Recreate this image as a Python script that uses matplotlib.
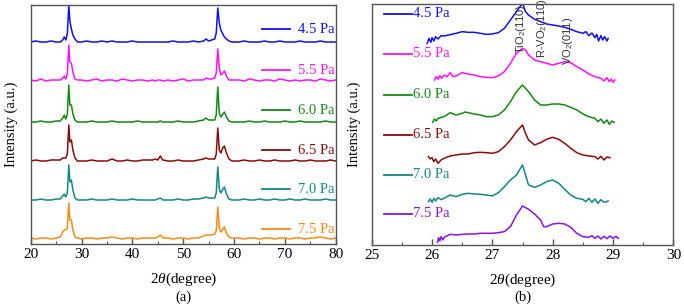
import matplotlib
matplotlib.use("Agg")
import matplotlib.pyplot as plt

# ── style ──────────────────────────────────────────────────────────────────
plt.rcParams.update({
    "font.family": "Liberation Serif",
    "font.size": 10,
    "mathtext.fontset": "custom",
    "mathtext.rm": "Liberation Serif",
    "mathtext.it": "Liberation Serif:italic",
    "mathtext.sf": "Liberation Sans",
    "axes.edgecolor": "#555555",
    "axes.linewidth": 1.0,
})

LABELS = ["4.5 Pa", "5.5 Pa", "6.0 Pa", "6.5 Pa", "7.0 Pa", "7.5 Pa"]
COLORS_A = ["#1010F0", "#FF10FF", "#108A10", "#8B0A0A", "#108888", "#FF8810"]
COLORS_B = ["#1010F0", "#FF10FF", "#108A10", "#8B0A0A", "#108888", "#8A10F0"]

# ── panel (a): wide scan, intensity above each baseline ──────────────────
X_A = [20, 21, 22, 23, 24, 25,
       25.8, 26.3, 26.6, 26.9, 27.2, 27.5, 27.7, 28.0, 28.3, 28.7, 29.2,
       30, 31, 32, 33, 34, 35, 36, 37, 38, 39, 40, 41, 42, 43, 44,
       44.5, 45, 45.5, 46,
       47, 48, 49, 50, 51, 52, 53, 54,
       54.5, 55, 55.6, 56.2, 56.5, 56.8, 57.1, 57.4, 57.8, 58.1, 58.5, 59, 59.6,
       61, 62, 63, 64, 65, 66, 67, 68, 69, 70, 71, 72, 73, 74, 75, 76, 77, 78, 79, 80]

I_45 = [1, 2, 1, 1, 2, 1,
        1, 3, 6, 3, 9, 38, 22, 14, 8, 4, 1,
        1, 2, 1, 1, 2, 1, 2, 1, 1, 1, 2, 1, 1, 1, 1,
        1, 1, 1, 1,
        1, 2, 1, 1, 1, 2, 1, 2,
        4, 2, 3, 4, 10, 35, 20, 13, 9, 6, 4, 2, 1,
        1, 2, 1, 1, 1, 2, 1, 1, 2, 1, 1, 1, 2, 1, 1, 1, 2, 1, 1, 1]
I_55 = [2, 1, 3, 1, 2, 2,
        2, 4, 6, 3, 8, 37, 20, 19, 10, 3, 2,
        2, 1, 2, 3, 1, 2, 2, 1, 3, 2, 1, 2, 2, 1, 2,
        1, 2, 2, 1,
        2, 1, 2, 3, 1, 2, 2, 2,
        4, 3, 3, 4, 9, 33, 14, 7, 9, 11, 6, 2, 2,
        2, 1, 3, 2, 1, 2, 2, 1, 3, 2, 1, 2, 1, 2, 2, 1, 3, 2, 1, 2]
I_60 = [1, 1, 2, 1, 1, 2,
        2, 5, 8, 4, 9, 38, 18, 18, 9, 3, 1,
        1, 1, 2, 1, 1, 1, 2, 1, 1, 1, 1, 2, 1, 1, 1,
        1, 1, 2, 1,
        1, 1, 2, 1, 1, 1, 2, 3,
        5, 3, 3, 3, 8, 36, 10, 6, 9, 11, 6, 2, 1,
        1, 1, 2, 1, 1, 2, 1, 1, 1, 2, 1, 1, 2, 1, 1, 1, 1, 2, 1, 1]
I_65 = [1, 2, 1, 1, 2, 2,
        2, 4, 4, 4, 8, 37, 20, 22, 12, 4, 1,
        1, 1, 2, 1, 1, 1, 3, 1, 1, 2, 1, 1, 2, 2, 2,
        3, 2, 6, 2,
        1, 1, 2, 1, 1, 1, 2, 3,
        4, 3, 3, 3, 8, 34, 12, 9, 14, 16, 9, 3, 1,
        1, 2, 1, 1, 2, 1, 1, 2, 1, 1, 1, 2, 1, 1, 2, 1, 1, 1, 2, 1]
I_70 = [1, 1, 2, 1, 1, 2,
        2, 5, 7, 4, 8, 36, 19, 21, 11, 3, 1,
        1, 1, 2, 1, 1, 1, 2, 1, 1, 1, 2, 1, 1, 1, 1,
        1, 2, 3, 1,
        1, 1, 2, 1, 1, 2, 2, 3,
        4, 3, 3, 3, 8, 34, 12, 8, 12, 14, 7, 2, 1,
        1, 2, 1, 1, 2, 1, 1, 2, 1, 1, 2, 1, 1, 2, 1, 1, 1, 2, 1, 1]
I_75 = [2, 1, 2, 2, 1, 2,
        3, 8, 10, 10, 12, 37, 20, 20, 10, 3, 2,
        1, 2, 2, 1, 2, 2, 3, 2, 1, 2, 2, 1, 2, 2, 2,
        2, 3, 5, 2,
        2, 1, 2, 2, 1, 2, 2, 4,
        5, 5, 5, 6, 9, 33, 12, 8, 11, 13, 7, 3, 2,
        2, 1, 2, 2, 1, 2, 2, 1, 2, 2, 1, 2, 2, 1, 2, 2, 3, 2, 1, 2]
SERIES_A = [I_45, I_55, I_60, I_65, I_70, I_75]
OFFSETS_A = [201, 162, 121, 82, 43, 4]

# ── panel (b): zoom on 25-30 deg, stacked intensities ─────────────────────
XB_45 = [25.92, 25.95, 25.98, 26.0, 26.03, 26.06, 26.1, 26.15,
         26.2, 26.3, 26.4, 26.5, 26.6, 26.7, 26.8, 26.9, 27.0, 27.1, 27.2, 27.3, 27.4,
         27.45, 27.5, 27.55, 27.6, 27.7, 27.8, 27.9, 28.0, 28.1, 28.2, 28.3, 28.4, 28.5,
         28.55, 28.6, 28.65, 28.7, 28.73, 28.76, 28.8, 28.83, 28.86, 28.9, 28.92]
IB_45 = [605, 620, 608, 622, 612, 625, 618, 628,
         627, 631, 635, 640, 638, 638, 635, 632, 633, 637, 650, 675, 700,
         713, 725, 700, 690, 677, 670, 663, 660, 657, 653, 647, 640, 635,
         640, 628, 636, 622, 632, 612, 628, 615, 625, 612, 620]
XB_55 = [26.04, 26.07, 26.1, 26.13, 26.16, 26.2, 26.25, 26.3, 26.35,
         26.4, 26.5, 26.6, 26.7, 26.8, 26.9, 27.0, 27.1, 27.2, 27.3, 27.4,
         27.5, 27.55, 27.6, 27.7, 27.8, 27.9, 28.0, 28.1, 28.2, 28.3, 28.4, 28.5,
         28.6, 28.7, 28.8,
         28.85, 28.9, 28.94, 28.97, 29.0, 29.03]
IB_55 = [495, 505, 497, 508, 500, 510, 505, 517, 505,
         507, 517, 513, 510, 505, 503, 502, 507, 520, 545, 575,
         590, 585, 570, 555, 550, 545, 540, 545, 550, 547, 535, 525,
         513, 505, 500,
         492, 502, 490, 498, 488, 495]
XB_60 = [26.01, 26.04, 26.07, 26.1,
         26.2, 26.3, 26.4, 26.5, 26.55, 26.6, 26.7, 26.8, 26.9, 27.0, 27.1, 27.2,
         27.3, 27.4,
         27.5, 27.6, 27.7, 27.8, 27.9, 28.0, 28.1, 28.2, 28.3, 28.4, 28.5, 28.6, 28.7,
         28.75, 28.8, 28.85, 28.9, 28.94, 28.98, 29.02]
IB_60 = [368, 378, 372, 380,
         385, 397, 390, 395, 399, 397, 393, 390, 385, 385, 390, 405,
         430, 460,
         480, 460, 435, 420, 420, 423, 423, 420, 413, 405, 393, 385, 380,
         370, 378, 365, 375, 362, 372, 368]
XB_65 = [25.94, 25.97, 26.0, 26.03, 26.06, 26.1, 26.15,
         26.2, 26.3, 26.4, 26.5, 26.6, 26.7, 26.8, 26.9, 27.0, 27.1, 27.2, 27.3, 27.4,
         27.5, 27.55, 27.6, 27.7, 27.8, 27.9, 28.0, 28.1, 28.2, 28.3, 28.4, 28.5,
         28.6, 28.7,
         28.75, 28.8, 28.85, 28.9, 28.95]
IB_65 = [265, 258, 262, 250, 258, 245, 255,
         260, 267, 270, 273, 273, 277, 278, 277, 275, 280, 295, 315, 340,
         360, 335, 315, 300, 307, 317, 323, 317, 305, 290, 277, 270,
         267, 265,
         258, 266, 255, 264, 262]
XB_70 = [25.94, 25.97, 26.0, 26.03, 26.06, 26.1, 26.15,
         26.2, 26.3, 26.4, 26.5, 26.6, 26.7, 26.8, 26.9, 27.0, 27.1, 27.2, 27.3, 27.4,
         27.5, 27.55, 27.6, 27.7, 27.8, 27.9, 28.0, 28.1, 28.2, 28.3, 28.4, 28.5,
         28.55, 28.6, 28.65, 28.7, 28.75, 28.8, 28.85, 28.92]
IB_70 = [130, 138, 128, 140, 132, 142, 136,
         140, 150, 145, 152, 155, 153, 152, 150, 147, 157, 175, 195, 210,
         240, 210, 180, 173, 180, 190, 195, 185, 167, 150, 140, 137,
         130, 140, 128, 138, 125, 136, 128, 132]
XB_75 = [26.09, 26.11, 26.13, 26.15, 26.18, 26.2,
         26.3, 26.4, 26.5, 26.6, 26.7, 26.8, 26.9, 27.0, 27.1, 27.2, 27.3, 27.4,
         27.5, 27.6, 27.7, 27.8, 27.85, 27.9, 28.0, 28.1, 28.2, 28.3, 28.4, 28.5, 28.6,
         28.65, 28.7, 28.75, 28.8, 28.85, 28.9, 28.95, 29.0, 29.05, 29.09]
IB_75 = [8, 22, 12, 25, 15, 23,
         32, 30, 32, 33, 33, 35, 35, 35, 37, 40, 55, 90,
         117, 107, 93, 75, 55, 55, 63, 65, 63, 53, 35, 25, 23,
         28, 20, 27, 18, 26, 19, 27, 20, 26, 20]
SERIES_B = [(XB_45, IB_45), (XB_55, IB_55), (XB_60, IB_60),
            (XB_65, IB_65), (XB_70, IB_70), (XB_75, IB_75)]

PEAKS = ["TiO$_\\mathsf{2}$(110)", "R-VO$_\\mathsf{2}$(110)", "VO$_\\mathsf{2}$(011)"]
PEAK_X = [27.47, 27.82, 28.26]
PEAK_Y = [573, 560, 540]

# ── figure ─────────────────────────────────────────────────────────────────
fig = plt.figure(figsize=(6.84, 3.07), dpi=100)
ax1 = fig.add_axes([0.0449, 0.2052, 0.4459, 0.7785])
ax2 = fig.add_axes([0.5434, 0.2020, 0.4410, 0.7850])

# panel (a)
for ys, off, lab, col, ly in zip(SERIES_A, OFFSETS_A, LABELS, COLORS_A,
                                 [215, 174, 134, 94, 55, 15]):
    ax1.plot(X_A, [v + off for v in ys], color=col, lw=1.1)
    ax1.plot([65.5, 71.0], [ly, ly], color=col, lw=1.3)
    ax1.text(72.6, ly, lab, color=col, fontsize=10.5, va="center", ha="left")

ax1.set_xlim(20, 80)
ax1.set_ylim(0, 239)
ax1.set_xticks(range(20, 81, 10))
ax1.set_xticks(range(25, 80, 10), minor=True)
ax1.yaxis.set_label_coords(-0.042, 0.435)

# panel (b)
for (xs, ys), lab, col, ly in zip(SERIES_B, LABELS, COLORS_B,
                                  [693, 573, 450, 330, 210, 93]):
    ax2.plot(xs, ys, color=col, lw=1.1)
    ax2.plot([25.2, 25.66], [ly, ly], color=col, lw=1.3)
    ax2.text(25.69, ly, lab, color=col, fontsize=10.5, va="center", ha="left")

for lab, px, py in zip(PEAKS, PEAK_X, PEAK_Y):
    ax2.text(px, py, lab, rotation=90, ha="center", va="bottom",
             fontsize=8, family="Liberation Sans", color="#333333")

ax2.set_xlim(25, 30)
ax2.set_ylim(0, 723)
ax2.set_xticks(range(25, 31))
ax2.set_xticks([25.5, 26.5, 27.5, 28.5, 29.5], minor=True)
ax2.yaxis.set_label_coords(-0.035, 0.435)

for ax, tag in [(ax1, "(a)"), (ax2, "(b)")]:
    ax.set_yticks([])
    ax.set_ylabel("Intensity (a.u.)", fontsize=10.5)
    ax.set_xlabel("2$\\it{\\theta}$(degree)", fontsize=11, labelpad=7)
    ax.tick_params(axis="x", which="major", direction="in", length=4,
                   width=1.0, labelsize=11, pad=3, color="#555555")
    ax.tick_params(axis="x", which="minor", direction="in", length=2.5,
                   width=0.8, color="#555555")
    bb = ax.get_position()
    fig.text((bb.x0 + bb.x1) / 2, 0.032, tag, ha="center", va="center",
             fontsize=10.5)

fig.savefig("out.png", dpi=100, facecolor="white")
